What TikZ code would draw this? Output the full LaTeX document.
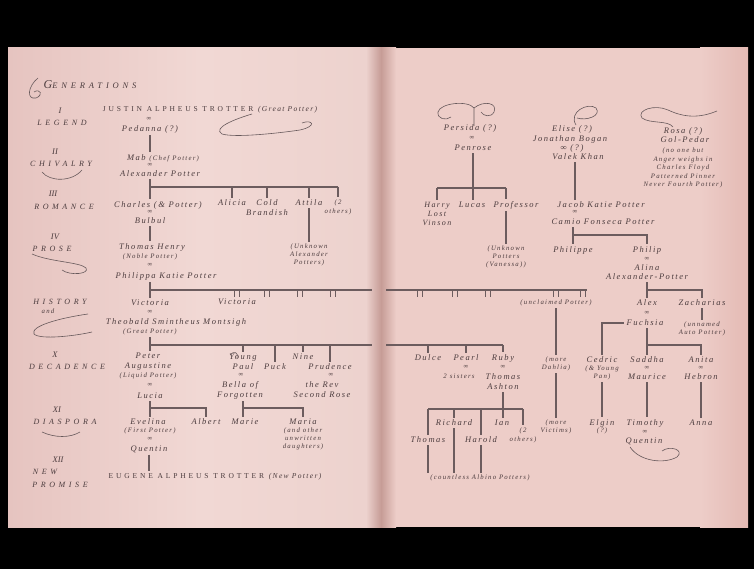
\documentclass[tikz,border=0pt]{standalone}
\usepackage{fontspec}
\setmainfont{Liberation Serif}
\newfontfamily\namefont[LetterSpace=18]{Liberation Serif}
\newfontfamily\capfont[LetterSpace=38]{Liberation Serif}
\newfontfamily\labfont[LetterSpace=45]{Liberation Serif}
\usetikzlibrary{calc}
\definecolor{ink}{RGB}{76,60,62}
\definecolor{lnk}{RGB}{108,92,94}
\definecolor{pgA}{RGB}{230,196,192}
\definecolor{pgB}{RGB}{241,216,212}
\definecolor{spn}{RGB}{198,156,150}
\definecolor{pgC}{RGB}{237,205,200}
\definecolor{pgD}{RGB}{228,186,180}
\tikzset{dblmark/.pic={\draw[lnk,line width=1pt] (-2.5,0) -- (-2.5,7) (2.5,0) -- (2.5,7);}}
\begin{document}
\begin{tikzpicture}[x=1pt,y=-1pt,
 nm/.style={text=ink,inner sep=0pt,align=center,font=\namefont\itshape\fontsize{8.5}{9}\selectfont},
 nm2/.style={nm,font=\namefont\itshape\fontsize{8.5}{10}\selectfont},
 sm/.style={nm,font=\namefont\itshape\fontsize{6.8}{8}\selectfont},
 mar/.style={text=ink,inner sep=0pt,font=\fontsize{6.5}{6.5}\selectfont},
 gl/.style={text=ink,inner sep=0pt,font=\labfont\itshape\fontsize{8}{8}\selectfont},
 gn/.style={text=ink,inner sep=0pt,font=\itshape\fontsize{8.5}{8.5}\selectfont},
 cp/.style={text=ink,inner sep=0pt,font=\capfont\fontsize{7.5}{8}\selectfont},
 ln/.style={draw=lnk,line width=1.4pt},
 gp/.style={shorten <=2pt,shorten >=2pt},
 fl/.style={draw=ink!85,line width=0.6pt}]
\useasboundingbox (0,0) rectangle (754,569);
% ---------- page ----------
\fill[black] (0,0) rectangle (754,569);
\shade[left color=pgA,right color=pgB] (8,48) rectangle (200,527);
\shade[left color=pgB,right color=pgB!90!spn] (200,48) rectangle (366,527);
\shade[left color=pgB!90!spn,right color=spn] (366,48) rectangle (381,527);
\shade[left color=spn,right color=pgC] (381,48) rectangle (396,527);
\fill[pgC] (396,48) rectangle (700,527);
\shade[left color=pgC,right color=pgD] (700,48) rectangle (748,527);
% ---------- generation labels ----------
\node[gl,font=\labfont\itshape\fontsize{8.5}{9}\selectfont] (gen) at (90,85) {{\fontsize{12}{12}\selectfont G}ENERATIONS};
\node[gn] (n1) at (60,111) {I};
\node[gl] (g1) at (62,123) {LEGEND};
\node[gn] (n2) at (55,152) {II};
\node[gl] (g2) at (61,164) {CHIVALRY};
\node[gn] (n3) at (53,194) {III};
\node[gl] (g3) at (64,207) {ROMANCE};
\node[gn] (n4) at (55,237) {IV};
\node[gl] (g4) at (52,249) {PROSE};
\node[gl] (g5) at (60,302) {HISTORY};
\node[sm] (g5s) at (48,311) {and};
\node[gn] (n10) at (55,355) {X};
\node[gl] (g10) at (67,367) {DECADENCE};
\node[gn] (n11) at (57,410) {XI};
\node[gl] (g11) at (65,422) {DIASPORA};
\node[gn] (n12) at (58,460) {XII};
\node[gl] (g12a) at (45,472) {NEW};
\node[gl] (g12) at (60,485) {PROMISE};
% label flourishes
\draw[fl] (38,78) .. controls (28,86) and (26,100) .. (36,98) .. controls (44,95) and (40,88) .. (34,92);
\draw[fl] (42,172) .. controls (50,182) and (72,182) .. (82,170);
\draw[fl] (32,254) .. controls (50,262) and (80,262) .. (86,268) .. controls (90,274) and (70,276) .. (62,270);
\draw[fl] (88,314) .. controls (60,318) and (30,326) .. (34,334) .. controls (40,340) and (75,336) .. (92,332);
\draw[fl] (42,432) .. controls (55,438) and (70,438) .. (80,432);
% ---------- left page tree ----------
\node[cp] (justin) at (210,110) {JUSTIN ALPHEUS TROTTER {\namefont\itshape\fontsize{7.5}{8}\selectfont (Great Potter)}};
\draw[fl] (252,114) .. controls (235,119) and (212,128) .. (222,134) .. controls (235,138) and (280,133) .. (300,130) .. controls (318,126) and (312,119) .. (302,123);
\node[mar] (mA) at (149,119) {∞};
\node[nm] (pedanna) at (150,129) {Pedanna (?)};
\node[nm] (mab) at (163,158) {Mab {\fontsize{6.8}{7}\selectfont (Chef Potter)}};
\node[mar] (mB) at (150,165) {∞};
\node[nm] (alexander) at (160,174) {Alexander Potter};
\node[nm] (charles) at (158,205) {Charles (\& Potter)};
\node[mar] (mC) at (150,212) {∞};
\node[nm] (bulbul) at (150,221) {Bulbul};
\node[nm] (alicia) at (232,203) {Alicia};
\node[nm2] (cold) at (267,208) {Cold\\Brandish};
\node[nm] (attila) at (309,203) {Attila};
\node[sm,font=\namefont\itshape\fontsize{6.8}{9}\selectfont] (others1) at (338,207) {(2\\others)};
\node[sm] (unkalex) at (309,255) {(Unknown\\Alexander\\Potters)};
\node[nm] (thomas) at (152,247) {Thomas Henry};
\node[sm] (noble) at (150,257) {(Noble Potter)};
\node[mar] (mD) at (150,265) {∞};
\node[nm] (philippa) at (166,276) {Philippa Katie Potter};
\node[nm] (victoria) at (150,303) {Victoria};
\node[nm] (victoria2) at (237,302) {Victoria};
\node[mar] (mE) at (150,312) {∞};
\node[nm] (theobald) at (176,322) {Theobald Smintheus Montsigh};
\node[sm] (great2) at (150,332) {(Great Potter)};
\node[nm2] (peter) at (148,362) {Peter\\Augustine};
\node[sm] (liquid) at (148,376) {(Liquid Potter)};
\node[mar] (mF) at (150,385) {∞};
\node[nm] (lucia) at (150,396) {Lucia};
\node[nm] (evelina) at (148,422) {Evelina};
\node[sm] (first) at (150,431) {(First Potter)};
\node[mar] (mG) at (150,439) {∞};
\node[nm] (quentin) at (149,449) {Quentin};
\node[cp] (eugene) at (215,477) {EUGENE ALPHEUS TROTTER {\namefont\itshape\fontsize{7.5}{8}\selectfont (New Potter)}};
\node[nm] (albert) at (206,422) {Albert};
\node[nm2] (young) at (243,362) {Young\\Paul};
\node[mar] (mH) at (241,375) {∞};
\node[nm2] (bella) at (240,390) {Bella of\\Forgotten};
\node[nm] (puck) at (275,367) {Puck};
\node[nm] (nine) at (303,357) {Nine};
\node[nm] (prudence) at (330,367) {Prudence};
\node[mar] (mI) at (331,375) {∞};
\node[nm2] (rev) at (322,390) {the Rev\\Second Rose};
\node[nm] (marie) at (245,422) {Marie};
\node[nm] (maria) at (303,422) {Maria};
\node[sm] (mariasub) at (303,439) {(and other\\unwritten\\daughters)};
\draw[fl] (230,355) .. controls (234,350) and (239,353) .. (237,358);
% ---------- right page tree ----------
\draw[fl] (474,126) -- (474,108) .. controls (468,100) and (440,103) .. (438,112) .. controls (437,119) and (446,121) .. (451,117);
\draw[fl] (474,108) .. controls (484,100) and (498,103) .. (494,112) .. controls (491,118) and (483,116) .. (481,112);
\node[nm] (persida) at (470,128) {Persida (?)};
\node[mar] (mJ) at (472,138) {∞};
\node[nm] (penrose) at (473,148) {Penrose};
\node[nm,font=\namefont\itshape\fontsize{8}{9}\selectfont] (harry) at (437,214) {Harry\\Lost\\Vinson};
\node[nm] (lucas2) at (472,205) {Lucas};
\node[nm] (professor) at (516,205) {Professor};
\node[sm] (unkpot) at (506,257) {(Unknown\\Potters\\(Vanessa))};
\node[sm] (unclaimed) at (556,303) {(unclaimed Potter)};
\node[sm] (moredahlia) at (556,364) {(more\\Dahlia)};
\node[sm] (morevictims) at (556,427) {(more\\Victims)};
\node[nm] (dulce) at (428,358) {Dulce};
\node[nm] (pearl) at (466,358) {Pearl};
\node[nm] (ruby) at (503,358) {Ruby};
\node[mar] (mK) at (466,367) {∞};
\node[mar] (mL) at (503,367) {∞};
\node[sm] (sisters) at (459,376) {2 sisters};
\node[nm2] (ashton) at (503,382) {Thomas\\Ashton};
\node[nm] (richard) at (454,423) {Richard};
\node[nm] (ian) at (502,423) {Ian};
\node[sm,font=\namefont\itshape\fontsize{6.8}{9}\selectfont] (others2) at (523,435) {(2\\others)};
\node[nm] (thomas2) at (428,440) {Thomas};
\node[nm] (harold) at (481,440) {Harold};
\node[sm] (countless) at (480,478) {(countless Albino Potters)};
\draw[fl] (576,125) .. controls (568,112) and (588,102) .. (596,108) .. controls (602,116) and (586,121) .. (577,118);
\node[nm] (elise) at (572,129) {Elise (?)};
\node[nm] (jonathan) at (570,139) {Jonathan Bogan};
\node[nm] (mM) at (572,148) {∞ (?)};
\node[nm] (valek) at (578,157) {Valek Khan};
\node[nm] (jacob) at (601,205) {Jacob Katie Potter};
\node[mar] (mN) at (575,212) {∞};
\node[nm] (camio) at (603,222) {Camio Fonseca Potter};
\node[nm] (philippe) at (573,250) {Philippe};
\node[nm] (philip) at (647,250) {Philip};
\node[mar] (mO) at (647,259) {∞};
\node[nm] (alina) at (647,268) {Alina};
\node[nm] (alexpotter) at (647,277) {Alexander-Potter};
\node[nm] (alex) at (647,303) {Alex};
\node[nm] (zacharias) at (702,303) {Zacharias};
\node[mar] (mP) at (647,313) {∞};
\node[nm] (fuchsia) at (645,323) {Fuchsia};
\node[sm] (unnamed) at (702,329) {(unnamed\\Auto Potter)};
\node[nm] (cedric) at (602,360) {Cedric};
\node[sm] (cedricsub) at (602,373) {(\& Young\\Pan)};
\node[nm] (saddha) at (647,360) {Saddha};
\node[mar] (mQ) at (647,368) {∞};
\node[nm] (maurice) at (647,377) {Maurice};
\node[nm] (anita) at (701,360) {Anita};
\node[mar] (mR) at (701,368) {∞};
\node[nm] (hebron) at (701,377) {Hebron};
\node[nm] (elgin) at (602,423) {Elgin};
\node[sm] (elginq) at (602,431) {(?)};
\node[nm] (timothy) at (645,423) {Timothy};
\node[mar] (mS) at (645,432) {∞};
\node[nm] (quentin2) at (644,441) {Quentin};
\node[nm] (anna) at (701,423) {Anna};
\draw[fl] (630,447) .. controls (640,462) and (665,464) .. (677,457) .. controls (685,450) and (670,445) .. (662,451);
\draw[fl] (673,127) .. controls (668,120) and (650,124) .. (642,118) .. controls (636,110) and (655,104) .. (668,110) .. controls (685,118) and (700,118) .. (717,111);
\node[nm] (rosa) at (683,131) {Rosa (?)};
\node[nm] (gol) at (685,140) {Gol-Pedar};
\node[sm,font=\namefont\itshape\fontsize{6.8}{8.6}\selectfont] (rosasub) at (683,168) {(no one but\\Anger weighs in\\Charles Floyd\\Patterned Pinner\\Never Fourth Potter)};
% ---------- connectors: left ----------
\coordinate (bus1) at (150,187);
\coordinate (bus2) at (150,290);
\coordinate (bus3) at (150,345);
\coordinate (bus4) at (150,408);
\coordinate (bus5) at (243,408);
\draw[ln,gp] (pedanna.south) -- (pedanna.south |- mab.north);
\draw[ln,gp] (bus1 |- alexander.south) -- (bus1 |- charles.north);
\draw[ln] (bus1) -- (bus1 -| others1.north);
\foreach \c in {alicia,cold,attila,others1} \draw[ln,shorten >=2pt] (bus1 -| \c.north) -- (\c.north);
\draw[ln,gp] (attila.south) -- (unkalex.north);
\draw[ln,gp] (bulbul.south) -- (bulbul.south |- thomas.north);
\draw[ln,gp] (bus2 |- philippa.south) -- (bus2 |- victoria.north);
\draw[ln] (bus2) -- (372,290);
\draw[ln] (386,290) -- (587,290);
\foreach \x in {237,267,300,333,420,455,488,556,583} \pic at (\x,290) {dblmark};
\draw[ln,gp] (bus3 |- great2.south) -- (bus3 |- peter.north);
\draw[ln] (bus3) -- (372,345);
\draw[ln] (386,345) -- (ruby.north |- bus3);
\foreach \c in {young,puck,nine,prudence,dulce,pearl,ruby} \draw[ln,shorten >=2pt] (bus3 -| \c.north) -- (\c.north);
\draw[ln,gp] (bus4 |- lucia.south) -- (bus4 |- evelina.north);
\draw[ln] (bus4) -- (bus4 -| albert.north) -- ([yshift=2pt]albert.north);
\draw[ln,gp] (quentin.south) -- (quentin.south |- eugene.north);
\draw[ln,gp] (bus5 |- bella.south) -- (bus5 |- marie.north);
\draw[ln] (bus5) -- (bus5 -| maria.north) -- ([yshift=2pt]maria.north);
% ---------- connectors: right ----------
\coordinate (bus6) at (473,188);
\coordinate (bus7) at (573,235);
\coordinate (bus8) at (647,290);
\coordinate (bus9) at (647,345);
\coordinate (bus10) at (503,409);
\coordinate (profx) at (506,0);
\draw[ln,gp] (penrose.south) -- (penrose.south |- lucas2.north);
\draw[ln] (bus6 -| harry.north) -- (bus6 -| profx);
\draw[ln,shorten >=2pt] (bus6 -| harry.north) -- (harry.north);
\draw[ln,shorten >=2pt] (bus6 -| profx) -- (profx |- professor.north);
\draw[ln,gp] (profx |- professor.south) -- (profx |- unkpot.north);
\draw[ln,gp] (unclaimed.south) -- (moredahlia.north);
\draw[ln,gp] (moredahlia.south) -- (morevictims.north);
\draw[ln,gp] (mN.north |- valek.south) -- (mN.north |- jacob.north);
\draw[ln,gp] (bus7 |- camio.south) -- (bus7 |- philippe.north);
\draw[ln] (bus7) -- (bus7 -| philip.north) -- ([yshift=2pt]philip.north);
\draw[ln,gp] (bus8 |- alexpotter.south) -- (bus8 |- alex.north);
\draw[ln] (bus8) -- (bus8 -| zacharias.north) -- ([yshift=2pt]zacharias.north);
\draw[ln,gp] (zacharias.south) -- (unnamed.north);
\draw[ln,shorten <=3pt,shorten >=2pt] (fuchsia.west) -| (cedric.north);
\draw[ln,gp] (bus9 |- fuchsia.south) -- (bus9 |- saddha.north);
\draw[ln] (bus9) -- (bus9 -| anita.north) -- ([yshift=2pt]anita.north);
\draw[ln,gp] (cedricsub.south) -- (elgin.north);
\draw[ln,gp] (maurice.south) -- (maurice.south |- timothy.north);
\draw[ln,gp] (hebron.south) -- (anna.north);
\draw[ln,gp] (bus10 |- ashton.south) -- (bus10 |- ian.north);
\draw[ln] (bus10 -| thomas2.north) -- (bus10 -| others2.north);
\foreach \c in {thomas2,richard,harold,others2} \draw[ln,shorten >=2pt] (bus10 -| \c.north) -- (\c.north);
\foreach \c in {thomas2,richard,harold} \draw[ln,gp] (\c.south) -- (\c.south |- countless.north);
\end{tikzpicture}
\end{document}
